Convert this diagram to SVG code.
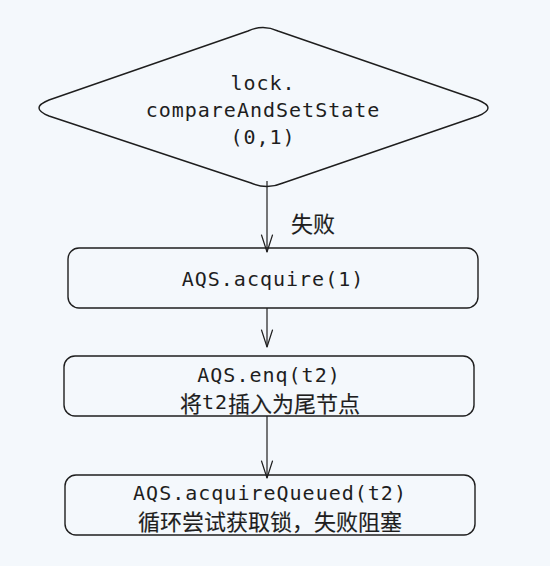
<svg xmlns="http://www.w3.org/2000/svg" width="550" height="566" viewBox="0 0 550 566">
<style>
.shape{fill:none;stroke:#1e1e1e;stroke-width:1.4;stroke-linejoin:round}
.edge{fill:none;stroke:#1e1e1e;stroke-width:1.2}
.head{fill:none;stroke:#1e1e1e;stroke-width:1.2;stroke-linecap:round;stroke-linejoin:round}
.mono{font-family:"DejaVu Sans Mono","Noto Sans CJK SC",monospace;font-size:20px;letter-spacing:1px;fill:#1e1e1e;text-anchor:middle;dominant-baseline:central}
.cjk{font-family:"Noto Sans CJK SC",sans-serif;font-size:22px;font-weight:400;fill:#1e1e1e;stroke:#1e1e1e;stroke-width:0.15;text-anchor:middle;dominant-baseline:central}
.lat{font-family:"DejaVu Sans Mono",monospace;font-size:20px;stroke-width:0;letter-spacing:1px}
</style>
<rect width="550" height="566" fill="#f4f8fc"/>
<g id="connectors">
  <path class="edge" d="M267 181 L267 252"/>
  <path class="head" d="M261.5 235 L267 252 L272.5 235"/>
  <text class="cjk" x="313" y="222">失败</text>
  <path class="edge" d="M267 308 L267 347"/>
  <path class="head" d="M261.5 330 L267 347 L272.5 330"/>
  <path class="edge" d="M267 416 L267 478"/>
  <path class="head" d="M261.5 461 L267 478 L272.5 461"/>
</g>
<g id="node-cas">
  <path class="shape" d="M248 31 Q263 24 278 31 L478 100 Q498 108 478 116 L283 183 Q267 190 251 183 L49 116 Q29 108 49 100 Z"/>
  <text class="mono" x="263" y="83">lock.</text>
  <text class="mono" x="263" y="110">compareAndSetState</text>
  <text class="mono" x="263" y="137">(0,1)</text>
</g>
<g id="node-acquire">
  <rect class="shape" x="68" y="248" width="410" height="60" rx="11"/>
  <text class="mono" x="273" y="279">AQS.acquire(1)</text>
</g>
<g id="node-enq">
  <rect class="shape" x="64" y="356" width="410" height="60" rx="11"/>
  <text class="mono" x="269" y="375">AQS.enq(t2)</text>
  <text class="cjk" x="270" y="402">将<tspan class="lat">t2</tspan>插入为尾节点</text>
</g>
<g id="node-queued">
  <rect class="shape" x="65" y="475" width="410" height="60" rx="11"/>
  <text class="mono" x="270" y="493">AQS.acquireQueued(t2)</text>
  <text class="cjk" x="270" y="520">循环尝试获取锁，失败阻塞</text>
</g>
</svg>
